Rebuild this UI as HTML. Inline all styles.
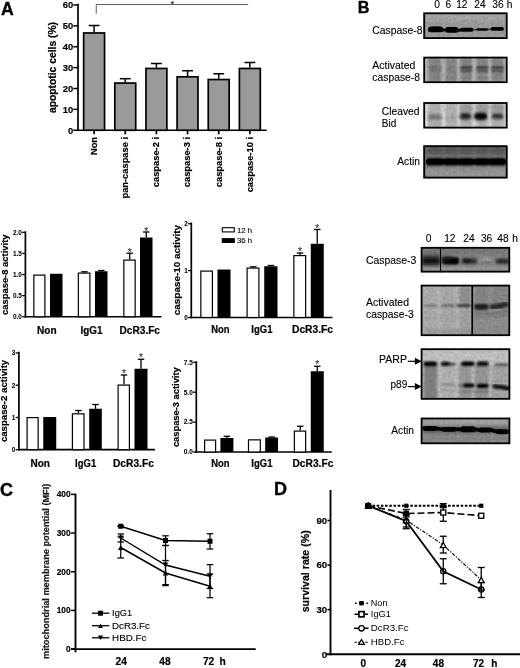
<!DOCTYPE html>
<html><head><meta charset="utf-8"><title>Figure</title>
<style>
html,body{margin:0;padding:0;background:#fff;}
svg{display:block;filter:blur(0.4px);font-family:'Liberation Sans', sans-serif;}
</style></head><body>
<svg width="520" height="668" viewBox="0 0 520 668">
<rect width="520" height="668" fill="#fff"/>
<text font-size="17.7" font-weight="bold" stroke="#000" stroke-width="0.354" x="0.9" y="14.9" >A</text>
<text font-size="16.2" font-weight="bold" stroke="#000" stroke-width="0.324" x="357.7" y="13.1" >B</text>
<text font-size="18" font-weight="bold" stroke="#000" stroke-width="0.36" x="0.1" y="496.1" >C</text>
<text font-size="18" font-weight="bold" stroke="#000" stroke-width="0.36" x="273.9" y="495.2" >D</text>
<line x1="78" y1="3.8" x2="78" y2="131.05" stroke="#000" stroke-width="1.7" />
<line x1="77.15" y1="130.25" x2="266.75" y2="130.25" stroke="#000" stroke-width="1.7" />
<line x1="73.3" y1="130.25" x2="78" y2="130.25" stroke="#000" stroke-width="1.5" />
<text font-size="9.4" font-weight="bold" stroke="#000" stroke-width="0.188" text-anchor="end" x="73.3" y="133.65" >0</text>
<line x1="73.3" y1="109.37" x2="78" y2="109.37" stroke="#000" stroke-width="1.5" />
<text font-size="9.4" font-weight="bold" stroke="#000" stroke-width="0.188" text-anchor="end" x="73.3" y="112.77000000000001" >10</text>
<line x1="73.3" y1="88.49000000000001" x2="78" y2="88.49000000000001" stroke="#000" stroke-width="1.5" />
<text font-size="9.4" font-weight="bold" stroke="#000" stroke-width="0.188" text-anchor="end" x="73.3" y="91.89000000000001" >20</text>
<line x1="73.3" y1="67.61" x2="78" y2="67.61" stroke="#000" stroke-width="1.5" />
<text font-size="9.4" font-weight="bold" stroke="#000" stroke-width="0.188" text-anchor="end" x="73.3" y="71.01" >30</text>
<line x1="73.3" y1="46.730000000000004" x2="78" y2="46.730000000000004" stroke="#000" stroke-width="1.5" />
<text font-size="9.4" font-weight="bold" stroke="#000" stroke-width="0.188" text-anchor="end" x="73.3" y="50.13" >40</text>
<line x1="73.3" y1="25.85000000000001" x2="78" y2="25.85000000000001" stroke="#000" stroke-width="1.5" />
<text font-size="9.4" font-weight="bold" stroke="#000" stroke-width="0.188" text-anchor="end" x="73.3" y="29.250000000000007" >50</text>
<line x1="73.3" y1="4.969999999999999" x2="78" y2="4.969999999999999" stroke="#000" stroke-width="1.5" />
<text font-size="9.4" font-weight="bold" stroke="#000" stroke-width="0.188" text-anchor="end" x="73.3" y="8.37" >60</text>
<text font-size="10.3" font-weight="bold" stroke="#000" stroke-width="0.206" text-anchor="middle" textLength="91" lengthAdjust="spacingAndGlyphs" transform="translate(56,67.5) rotate(-90)" >apoptotic cells (%)</text>
<line x1="94.1" y1="25.5" x2="94.1" y2="32.11399999999999" stroke="#000" stroke-width="1.5" />
<line x1="88.69999999999999" y1="25.5" x2="99.5" y2="25.5" stroke="#000" stroke-width="1.5" />
<rect x="83.64999999999999" y="32.96399999999999" width="20.900000000000002" height="97.28600000000002" fill="#9a9a9a" stroke="#000" stroke-width="1.7" />
<line x1="94.1" y1="130.25" x2="94.1" y2="134.35" stroke="#000" stroke-width="1.7" />
<text font-size="9.3" font-weight="bold" stroke="#000" stroke-width="0.186" text-anchor="end" transform="translate(97.0,137) rotate(-90)" >Non</text>
<line x1="125.24999999999999" y1="78.7" x2="125.24999999999999" y2="82.226" stroke="#000" stroke-width="1.5" />
<line x1="119.84999999999998" y1="78.7" x2="130.64999999999998" y2="78.7" stroke="#000" stroke-width="1.5" />
<rect x="114.79999999999998" y="83.076" width="20.900000000000002" height="47.174" fill="#9a9a9a" stroke="#000" stroke-width="1.7" />
<line x1="125.24999999999999" y1="130.25" x2="125.24999999999999" y2="134.35" stroke="#000" stroke-width="1.7" />
<text font-size="9.3" font-weight="bold" stroke="#000" stroke-width="0.186" text-anchor="end" transform="translate(128.14999999999998,137) rotate(-90)" >pan-caspase i</text>
<line x1="156.4" y1="63.5" x2="156.4" y2="67.61" stroke="#000" stroke-width="1.5" />
<line x1="151.0" y1="63.5" x2="161.8" y2="63.5" stroke="#000" stroke-width="1.5" />
<rect x="145.95" y="68.46" width="20.900000000000002" height="61.79" fill="#9a9a9a" stroke="#000" stroke-width="1.7" />
<line x1="156.4" y1="130.25" x2="156.4" y2="134.35" stroke="#000" stroke-width="1.7" />
<text font-size="9.3" font-weight="bold" stroke="#000" stroke-width="0.186" text-anchor="end" transform="translate(159.3,137) rotate(-90)" >caspase-2 i</text>
<line x1="187.55" y1="70.75" x2="187.55" y2="75.96199999999999" stroke="#000" stroke-width="1.5" />
<line x1="182.15" y1="70.75" x2="192.95000000000002" y2="70.75" stroke="#000" stroke-width="1.5" />
<rect x="177.1" y="76.81199999999998" width="20.900000000000002" height="53.43800000000001" fill="#9a9a9a" stroke="#000" stroke-width="1.7" />
<line x1="187.55" y1="130.25" x2="187.55" y2="134.35" stroke="#000" stroke-width="1.7" />
<text font-size="9.3" font-weight="bold" stroke="#000" stroke-width="0.186" text-anchor="end" transform="translate(190.45000000000002,137) rotate(-90)" >caspase-3 i</text>
<line x1="218.7" y1="73.75" x2="218.7" y2="78.6764" stroke="#000" stroke-width="1.5" />
<line x1="213.29999999999998" y1="73.75" x2="224.1" y2="73.75" stroke="#000" stroke-width="1.5" />
<rect x="208.24999999999997" y="79.5264" width="20.900000000000002" height="50.7236" fill="#9a9a9a" stroke="#000" stroke-width="1.7" />
<line x1="218.7" y1="130.25" x2="218.7" y2="134.35" stroke="#000" stroke-width="1.7" />
<text font-size="9.3" font-weight="bold" stroke="#000" stroke-width="0.186" text-anchor="end" transform="translate(221.6,137) rotate(-90)" >caspase-8 i</text>
<line x1="249.85000000000002" y1="62.5" x2="249.85000000000002" y2="67.61" stroke="#000" stroke-width="1.5" />
<line x1="244.45000000000002" y1="62.5" x2="255.25000000000003" y2="62.5" stroke="#000" stroke-width="1.5" />
<rect x="239.4" y="68.46" width="20.900000000000002" height="61.79" fill="#9a9a9a" stroke="#000" stroke-width="1.7" />
<line x1="249.85000000000002" y1="130.25" x2="249.85000000000002" y2="134.35" stroke="#000" stroke-width="1.7" />
<text font-size="9.3" font-weight="bold" stroke="#000" stroke-width="0.186" text-anchor="end" transform="translate(252.75000000000003,137) rotate(-90)" >caspase-10 i</text>
<path d="M96.25 13.75V4.5H248.25" fill="none" stroke="#3a3a3a" stroke-width="0.8"/>
<text font-size="9.5" text-anchor="middle" stroke="#000" stroke-width="0.12" fill="#333" x="172.3" y="7.3" >*</text>
<line x1="25.4" y1="231.3" x2="25.4" y2="317.55" stroke="#000" stroke-width="1.7" />
<line x1="24.549999999999997" y1="316.75" x2="161.5" y2="316.75" stroke="#000" stroke-width="1.7" />
<line x1="22.2" y1="316.75" x2="25.4" y2="316.75" stroke="#000" stroke-width="1.3" />
<text font-size="6.4" font-weight="bold" stroke="#000" stroke-width="0.06" text-anchor="end" x="21.799999999999997" y="319.05" >0.0</text>
<line x1="22.2" y1="295.65" x2="25.4" y2="295.65" stroke="#000" stroke-width="1.3" />
<text font-size="6.4" font-weight="bold" stroke="#000" stroke-width="0.06" text-anchor="end" x="21.799999999999997" y="297.95" >0.5</text>
<line x1="22.2" y1="274.55" x2="25.4" y2="274.55" stroke="#000" stroke-width="1.3" />
<text font-size="6.4" font-weight="bold" stroke="#000" stroke-width="0.06" text-anchor="end" x="21.799999999999997" y="276.85" >1.0</text>
<line x1="22.2" y1="253.45" x2="25.4" y2="253.45" stroke="#000" stroke-width="1.3" />
<text font-size="6.4" font-weight="bold" stroke="#000" stroke-width="0.06" text-anchor="end" x="21.799999999999997" y="255.75" >1.5</text>
<line x1="22.2" y1="232.35" x2="25.4" y2="232.35" stroke="#000" stroke-width="1.3" />
<text font-size="6.4" font-weight="bold" stroke="#000" stroke-width="0.06" text-anchor="end" x="21.799999999999997" y="234.65" >2.0</text>
<text font-size="9.8" font-weight="bold" stroke="#000" stroke-width="0.196" text-anchor="middle" textLength="80.5" lengthAdjust="spacingAndGlyphs" transform="translate(8.2,274.75) rotate(-90)" >caspase-8 activity</text>
<rect x="33.85" y="275.1" width="11.05" height="41.65" fill="#fff" stroke="#000" stroke-width="1.2" />
<rect x="50" y="273.75" width="12.5" height="43.0" fill="#000" />
<line x1="84.375" y1="271.8" x2="84.375" y2="272.5" stroke="#000" stroke-width="1.3" />
<line x1="81.125" y1="271.8" x2="87.625" y2="271.8" stroke="#000" stroke-width="1.3" />
<rect x="78.35" y="273.1" width="11.55" height="43.65" fill="#fff" stroke="#000" stroke-width="1.2" />
<line x1="101.25" y1="270.5" x2="101.25" y2="271.25" stroke="#000" stroke-width="1.3" />
<line x1="98.0" y1="270.5" x2="104.5" y2="270.5" stroke="#000" stroke-width="1.3" />
<rect x="95" y="271.25" width="12.5" height="45.5" fill="#000" />
<line x1="129.75" y1="253.25" x2="129.75" y2="259.5" stroke="#000" stroke-width="1.3" />
<line x1="126.5" y1="253.25" x2="133.0" y2="253.25" stroke="#000" stroke-width="1.3" />
<rect x="123.85" y="260.1" width="11.3" height="56.65" fill="#fff" stroke="#000" stroke-width="1.2" />
<text font-size="10" text-anchor="middle" stroke="#000" stroke-width="0.12" fill="#3a3a3a" x="129.75" y="255.9" >*</text>
<line x1="146.25" y1="232" x2="146.25" y2="237.5" stroke="#000" stroke-width="1.3" />
<line x1="143.0" y1="232" x2="149.5" y2="232" stroke="#000" stroke-width="1.3" />
<rect x="140" y="237.5" width="12.5" height="79.25" fill="#000" />
<text font-size="10" text-anchor="middle" stroke="#000" stroke-width="0.12" fill="#3a3a3a" x="146.25" y="235.3" >*</text>
<text font-size="10" font-weight="bold" stroke="#000" stroke-width="0.2" textLength="19.6" lengthAdjust="spacingAndGlyphs" x="37" y="333.6" >Non</text>
<text font-size="10" font-weight="bold" stroke="#000" stroke-width="0.2" textLength="22.0" lengthAdjust="spacingAndGlyphs" x="80.5" y="333.6" >IgG1</text>
<text font-size="10" font-weight="bold" stroke="#000" stroke-width="0.2" textLength="40.5" lengthAdjust="spacingAndGlyphs" x="119.5" y="333.6" >DcR3.Fc</text>
<line x1="191.3" y1="222.55" x2="191.3" y2="318.3" stroke="#000" stroke-width="1.7" />
<line x1="190.45000000000002" y1="317.5" x2="332.5" y2="317.5" stroke="#000" stroke-width="1.7" />
<line x1="188.10000000000002" y1="317.5" x2="191.3" y2="317.5" stroke="#000" stroke-width="1.3" />
<text font-size="6.4" font-weight="bold" stroke="#000" stroke-width="0.06" text-anchor="end" x="187.70000000000002" y="319.8" >0</text>
<line x1="188.10000000000002" y1="270.6" x2="191.3" y2="270.6" stroke="#000" stroke-width="1.3" />
<text font-size="6.4" font-weight="bold" stroke="#000" stroke-width="0.06" text-anchor="end" x="187.70000000000002" y="272.90000000000003" >1</text>
<line x1="188.10000000000002" y1="223.75" x2="191.3" y2="223.75" stroke="#000" stroke-width="1.3" />
<text font-size="6.4" font-weight="bold" stroke="#000" stroke-width="0.06" text-anchor="end" x="187.70000000000002" y="226.05" >2</text>
<text font-size="9.8" font-weight="bold" stroke="#000" stroke-width="0.196" text-anchor="middle" textLength="90.3" lengthAdjust="spacingAndGlyphs" transform="translate(180.1,270.05) rotate(-90)" >caspase-10 activity</text>
<rect x="200.85" y="271.1" width="11.55" height="46.4" fill="#fff" stroke="#000" stroke-width="1.2" />
<rect x="217.5" y="269.5" width="13.0" height="48.0" fill="#000" />
<line x1="253.25" y1="266.8" x2="253.25" y2="267.5" stroke="#000" stroke-width="1.3" />
<line x1="250.0" y1="266.8" x2="256.5" y2="266.8" stroke="#000" stroke-width="1.3" />
<rect x="247.1" y="268.1" width="11.8" height="49.4" fill="#fff" stroke="#000" stroke-width="1.2" />
<line x1="270.875" y1="265.5" x2="270.875" y2="266.25" stroke="#000" stroke-width="1.3" />
<line x1="267.625" y1="265.5" x2="274.125" y2="265.5" stroke="#000" stroke-width="1.3" />
<rect x="264.25" y="266.25" width="13.25" height="51.25" fill="#000" />
<line x1="300.0" y1="253" x2="300.0" y2="255" stroke="#000" stroke-width="1.3" />
<line x1="296.75" y1="253" x2="303.25" y2="253" stroke="#000" stroke-width="1.3" />
<rect x="293.85" y="255.6" width="11.8" height="61.9" fill="#fff" stroke="#000" stroke-width="1.2" />
<text font-size="10" text-anchor="middle" stroke="#000" stroke-width="0.12" fill="#3a3a3a" x="300.0" y="255.2" >*</text>
<line x1="317.25" y1="229.5" x2="317.25" y2="243.75" stroke="#000" stroke-width="1.3" />
<line x1="314.0" y1="229.5" x2="320.5" y2="229.5" stroke="#000" stroke-width="1.3" />
<rect x="310.75" y="243.75" width="13.0" height="73.75" fill="#000" />
<text font-size="10" text-anchor="middle" stroke="#000" stroke-width="0.12" fill="#3a3a3a" x="317.25" y="231.7" >*</text>
<text font-size="10" font-weight="bold" stroke="#000" stroke-width="0.2" textLength="18.3" lengthAdjust="spacingAndGlyphs" x="211.25" y="333.4" >Non</text>
<text font-size="10" font-weight="bold" stroke="#000" stroke-width="0.2" textLength="21.2" lengthAdjust="spacingAndGlyphs" x="251.25" y="333.4" >IgG1</text>
<text font-size="10" font-weight="bold" stroke="#000" stroke-width="0.2" textLength="41" lengthAdjust="spacingAndGlyphs" x="292" y="333.4" >DcR3.Fc</text>
<rect x="222.3" y="227.7" width="12" height="4.2" fill="#fff" stroke="#000" stroke-width="1.1" />
<rect x="221.75" y="238.1" width="13.1" height="4.9" fill="#000" />
<text font-size="7.8" textLength="15.2" lengthAdjust="spacingAndGlyphs" x="236.9" y="232.5" stroke="#000" stroke-width="0.12">12 h</text>
<text font-size="7.8" textLength="15.2" lengthAdjust="spacingAndGlyphs" x="236.9" y="243.3" stroke="#000" stroke-width="0.12">36 h</text>
<line x1="18.9" y1="351.8" x2="18.9" y2="450.5" stroke="#000" stroke-width="1.7" />
<line x1="18.049999999999997" y1="449.7" x2="155" y2="449.7" stroke="#000" stroke-width="1.7" />
<line x1="15.7" y1="449.7" x2="18.9" y2="449.7" stroke="#000" stroke-width="1.3" />
<text font-size="6.4" font-weight="bold" stroke="#000" stroke-width="0.06" text-anchor="end" x="15.299999999999999" y="452.0" >0</text>
<line x1="15.7" y1="417.45" x2="18.9" y2="417.45" stroke="#000" stroke-width="1.3" />
<text font-size="6.4" font-weight="bold" stroke="#000" stroke-width="0.06" text-anchor="end" x="15.299999999999999" y="419.75" >1</text>
<line x1="15.7" y1="385.2" x2="18.9" y2="385.2" stroke="#000" stroke-width="1.3" />
<text font-size="6.4" font-weight="bold" stroke="#000" stroke-width="0.06" text-anchor="end" x="15.299999999999999" y="387.5" >2</text>
<line x1="15.7" y1="352.95" x2="18.9" y2="352.95" stroke="#000" stroke-width="1.3" />
<text font-size="6.4" font-weight="bold" stroke="#000" stroke-width="0.06" text-anchor="end" x="15.299999999999999" y="355.25" >3</text>
<text font-size="9.8" font-weight="bold" stroke="#000" stroke-width="0.196" text-anchor="middle" textLength="82.3" lengthAdjust="spacingAndGlyphs" transform="translate(7.4,400.95000000000005) rotate(-90)" >caspase-2 activity</text>
<rect x="27.1" y="417.6" width="11.05" height="32.09999999999999" fill="#fff" stroke="#000" stroke-width="1.2" />
<rect x="43.25" y="417" width="13.0" height="32.69999999999999" fill="#000" />
<line x1="78.44999999999999" y1="410.5" x2="78.44999999999999" y2="413.25" stroke="#000" stroke-width="1.3" />
<line x1="75.19999999999999" y1="410.5" x2="81.69999999999999" y2="410.5" stroke="#000" stroke-width="1.3" />
<rect x="72.39999999999999" y="413.85" width="11.599999999999998" height="35.84999999999999" fill="#fff" stroke="#000" stroke-width="1.2" />
<line x1="95.5" y1="404.5" x2="95.5" y2="408.75" stroke="#000" stroke-width="1.3" />
<line x1="92.25" y1="404.5" x2="98.75" y2="404.5" stroke="#000" stroke-width="1.3" />
<rect x="89.2" y="408.75" width="12.599999999999994" height="40.94999999999999" fill="#000" />
<line x1="124.0" y1="375" x2="124.0" y2="384.5" stroke="#000" stroke-width="1.3" />
<line x1="120.75" y1="375" x2="127.25" y2="375" stroke="#000" stroke-width="1.3" />
<rect x="118.1" y="385.1" width="11.3" height="64.6" fill="#fff" stroke="#000" stroke-width="1.2" />
<text font-size="10" text-anchor="middle" stroke="#000" stroke-width="0.12" fill="#3a3a3a" x="124.0" y="377.2" >*</text>
<line x1="141.0" y1="359.25" x2="141.0" y2="368.75" stroke="#000" stroke-width="1.3" />
<line x1="137.75" y1="359.25" x2="144.25" y2="359.25" stroke="#000" stroke-width="1.3" />
<rect x="134.5" y="368.75" width="13.0" height="80.94999999999999" fill="#000" />
<text font-size="10" text-anchor="middle" stroke="#000" stroke-width="0.12" fill="#3a3a3a" x="141.0" y="361.0" >*</text>
<text font-size="10" font-weight="bold" stroke="#000" stroke-width="0.2" textLength="19.5" lengthAdjust="spacingAndGlyphs" x="30.5" y="467" >Non</text>
<text font-size="10" font-weight="bold" stroke="#000" stroke-width="0.2" textLength="21.2" lengthAdjust="spacingAndGlyphs" x="75" y="467" >IgG1</text>
<text font-size="10" font-weight="bold" stroke="#000" stroke-width="0.2" textLength="40.8" lengthAdjust="spacingAndGlyphs" x="113" y="467" >DcR3.Fc</text>
<line x1="196.3" y1="361.3" x2="196.3" y2="452.8" stroke="#000" stroke-width="1.7" />
<line x1="195.45000000000002" y1="452" x2="331.75" y2="452" stroke="#000" stroke-width="1.7" />
<line x1="193.10000000000002" y1="452.0" x2="196.3" y2="452.0" stroke="#000" stroke-width="1.3" />
<text font-size="6.4" font-weight="bold" stroke="#000" stroke-width="0.06" text-anchor="end" x="192.70000000000002" y="454.3" >0.0</text>
<line x1="193.10000000000002" y1="422.1" x2="196.3" y2="422.1" stroke="#000" stroke-width="1.3" />
<text font-size="6.4" font-weight="bold" stroke="#000" stroke-width="0.06" text-anchor="end" x="192.70000000000002" y="424.40000000000003" >2.5</text>
<line x1="193.10000000000002" y1="392.2" x2="196.3" y2="392.2" stroke="#000" stroke-width="1.3" />
<text font-size="6.4" font-weight="bold" stroke="#000" stroke-width="0.06" text-anchor="end" x="192.70000000000002" y="394.5" >5.0</text>
<line x1="193.10000000000002" y1="362.3" x2="196.3" y2="362.3" stroke="#000" stroke-width="1.3" />
<text font-size="6.4" font-weight="bold" stroke="#000" stroke-width="0.06" text-anchor="end" x="192.70000000000002" y="364.6" >7.5</text>
<text font-size="9.5" font-weight="bold" stroke="#000" stroke-width="0.19" text-anchor="middle" textLength="79.8" lengthAdjust="spacingAndGlyphs" transform="translate(179.2,407.20000000000005) rotate(-90)" >caspase-3 activity</text>
<rect x="204.6" y="440.1" width="10.99999999999999" height="11.9" fill="#fff" stroke="#000" stroke-width="1.2" />
<line x1="226.9" y1="436.25" x2="226.9" y2="438" stroke="#000" stroke-width="1.3" />
<line x1="223.65" y1="436.25" x2="230.15" y2="436.25" stroke="#000" stroke-width="1.3" />
<rect x="220.4" y="438" width="13.0" height="14" fill="#000" />
<rect x="248.5" y="439.85" width="11.799999999999972" height="12.15" fill="#fff" stroke="#000" stroke-width="1.2" />
<line x1="271.6" y1="437" x2="271.6" y2="437.5" stroke="#000" stroke-width="1.3" />
<line x1="268.35" y1="437" x2="274.85" y2="437" stroke="#000" stroke-width="1.3" />
<rect x="265.2" y="437.5" width="12.800000000000011" height="14.5" fill="#000" />
<line x1="300.25" y1="426.25" x2="300.25" y2="430.5" stroke="#000" stroke-width="1.3" />
<line x1="297.0" y1="426.25" x2="303.5" y2="426.25" stroke="#000" stroke-width="1.3" />
<rect x="294.35" y="431.1" width="11.3" height="20.9" fill="#fff" stroke="#000" stroke-width="1.2" />
<line x1="317.25" y1="366.25" x2="317.25" y2="371.25" stroke="#000" stroke-width="1.3" />
<line x1="314.0" y1="366.25" x2="320.5" y2="366.25" stroke="#000" stroke-width="1.3" />
<rect x="310.75" y="371.25" width="13.0" height="80.75" fill="#000" />
<text font-size="10" text-anchor="middle" stroke="#000" stroke-width="0.12" fill="#3a3a3a" x="317.25" y="367.8" >*</text>
<text font-size="10" font-weight="bold" stroke="#000" stroke-width="0.2" textLength="18.3" lengthAdjust="spacingAndGlyphs" x="211.25" y="467" >Non</text>
<text font-size="10" font-weight="bold" stroke="#000" stroke-width="0.2" textLength="21.2" lengthAdjust="spacingAndGlyphs" x="251.25" y="467" >IgG1</text>
<text font-size="10" font-weight="bold" stroke="#000" stroke-width="0.2" textLength="40.8" lengthAdjust="spacingAndGlyphs" x="292.5" y="467" >DcR3.Fc</text>
<defs>
<filter id="b0" x="-20%" y="-80%" width="140%" height="260%"><feGaussianBlur stdDeviation="0.6"/></filter>
<filter id="b1" x="-20%" y="-80%" width="140%" height="260%"><feGaussianBlur stdDeviation="0.9"/></filter>
<filter id="b2" x="-20%" y="-80%" width="140%" height="260%"><feGaussianBlur stdDeviation="1.5"/></filter>
<filter id="b3" x="-20%" y="-80%" width="140%" height="260%"><feGaussianBlur stdDeviation="2.4"/></filter>
<filter id="nz" x="0" y="0" width="100%" height="100%"><feTurbulence type="fractalNoise" baseFrequency="0.35" numOctaves="2" seed="3" result="t"/><feColorMatrix in="t" type="matrix" values="0 0 0 0 0  0 0 0 0 0  0 0 0 0 0  1.2 0 0 0 -0.35"/></filter>
</defs>
<text font-size="10.2" text-anchor="middle" stroke="#000" stroke-width="0.12" x="437.2" y="8.2" >0</text>
<text font-size="10.2" text-anchor="middle" stroke="#000" stroke-width="0.12" x="448.3" y="8.2" >6</text>
<text font-size="10.2" text-anchor="middle" stroke="#000" stroke-width="0.12" x="461.8" y="8.2" >12</text>
<text font-size="10.2" text-anchor="middle" stroke="#000" stroke-width="0.12" x="480" y="8.2" >24</text>
<text font-size="10.2" text-anchor="middle" stroke="#000" stroke-width="0.12" x="498" y="8.2" >36</text>
<text font-size="10.2" text-anchor="middle" stroke="#000" stroke-width="0.12" x="509.6" y="8.2" >h</text>
<clipPath id="c1"><rect x="423.4" y="12.5" width="84.10000000000002" height="26.4"/></clipPath>
<g clip-path="url(#c1)">
<rect x="423.4" y="12.5" width="84.10000000000002" height="26.4" fill="#a0a0a0" />
<rect x="424" y="14.0" width="83" height="6" rx="2.5" fill="#b4b4b4" opacity="0.7" filter="url(#b3)"/>
<rect x="428" y="26.7" width="15.300000000000011" height="5.6" rx="2.5" fill="#000" opacity="1" filter="url(#b0)"/>
<rect x="430" y="26.6" width="12" height="4.4" rx="2.2" fill="#000" opacity="1" filter="url(#b0)"/>
<rect x="445.3" y="27.099999999999998" width="13.099999999999966" height="5.6" rx="2.5" fill="#000" opacity="1" filter="url(#b0)"/>
<rect x="442" y="28.5" width="4" height="3" rx="1.5" fill="#000" opacity="1" filter="url(#b0)"/>
<rect x="457" y="28.7" width="4" height="3" rx="1.5" fill="#000" opacity="1" filter="url(#b0)"/>
<rect x="459.8" y="27.85" width="13.800000000000011" height="3.9" rx="1.95" fill="#000" opacity="1" filter="url(#b0)"/>
<rect x="476.2" y="28.3" width="11.800000000000011" height="2.4" rx="1.2" fill="#050505" opacity="1" filter="url(#b0)"/>
<rect x="472" y="29.0" width="5" height="1.6" rx="0.8" fill="#222" opacity="0.8" filter="url(#b0)"/>
<rect x="487" y="28.400000000000002" width="5" height="1.8" rx="0.9" fill="#222" opacity="0.8" filter="url(#b0)"/>
<rect x="490.7" y="27.049999999999997" width="13.199999999999989" height="3.7" rx="1.85" fill="#000" opacity="1" filter="url(#b0)"/>
<rect x="423.4" y="12.5" width="84.10000000000002" height="26.4" filter="url(#nz)" opacity="0.18"/>
</g>
<rect x="424.2" y="13.3" width="82.5" height="24.8" fill="none" stroke="#000" stroke-width="1.8"/>
<text font-size="10.4" stroke="#000" stroke-width="0.12" textLength="50.3" lengthAdjust="spacingAndGlyphs" x="372.3" y="33.8" >Caspase-8</text>
<clipPath id="c2"><rect x="423.4" y="56.8" width="84.10000000000002" height="26.200000000000003"/></clipPath>
<g clip-path="url(#c2)">
<rect x="423.4" y="56.8" width="84.10000000000002" height="26.200000000000003" fill="#bcbcbc" />
<rect x="428.7" y="55.0" width="12.600000000000023" height="30" rx="2.5" fill="#848484" opacity="0.8" filter="url(#b1)"/>
<rect x="445.7" y="55.0" width="11.100000000000023" height="30" rx="2.5" fill="#848484" opacity="0.8" filter="url(#b1)"/>
<rect x="460.7" y="55.0" width="11.100000000000023" height="30" rx="2.5" fill="#848484" opacity="0.8" filter="url(#b1)"/>
<rect x="476.7" y="55.0" width="11.100000000000023" height="30" rx="2.5" fill="#848484" opacity="0.8" filter="url(#b1)"/>
<rect x="491.7" y="55.0" width="11.600000000000023" height="30" rx="2.5" fill="#848484" opacity="0.8" filter="url(#b1)"/>
<rect x="428.0" y="66.1" width="14.0" height="2.8" rx="1.4" fill="#303030" opacity="0.3" filter="url(#b1)"/>
<rect x="428.0" y="69.5" width="14.0" height="2.8" rx="1.4" fill="#383838" opacity="0.255" filter="url(#b1)"/>
<rect x="427.5" y="76.3" width="15.0" height="2.4" rx="1.2" fill="#666" opacity="0.3" filter="url(#b1)"/>
<rect x="427.5" y="61.0" width="15.0" height="2" rx="1.0" fill="#666" opacity="0.3" filter="url(#b1)"/>
<rect x="427.5" y="73.0" width="15.0" height="2" rx="1.0" fill="#777" opacity="0.25" filter="url(#b1)"/>
<rect x="445.0" y="66.1" width="12.5" height="2.8" rx="1.4" fill="#303030" opacity="0.15" filter="url(#b1)"/>
<rect x="445.0" y="69.5" width="12.5" height="2.8" rx="1.4" fill="#383838" opacity="0.1275" filter="url(#b1)"/>
<rect x="444.5" y="76.3" width="13.5" height="2.4" rx="1.2" fill="#666" opacity="0.3" filter="url(#b1)"/>
<rect x="444.5" y="61.0" width="13.5" height="2" rx="1.0" fill="#666" opacity="0.3" filter="url(#b1)"/>
<rect x="444.5" y="73.0" width="13.5" height="2" rx="1.0" fill="#777" opacity="0.25" filter="url(#b1)"/>
<rect x="460.0" y="66.1" width="12.5" height="2.8" rx="1.4" fill="#303030" opacity="0.85" filter="url(#b1)"/>
<rect x="460.0" y="69.5" width="12.5" height="2.8" rx="1.4" fill="#383838" opacity="0.7224999999999999" filter="url(#b1)"/>
<rect x="459.5" y="76.3" width="13.5" height="2.4" rx="1.2" fill="#666" opacity="0.3" filter="url(#b1)"/>
<rect x="459.5" y="61.0" width="13.5" height="2" rx="1.0" fill="#666" opacity="0.3" filter="url(#b1)"/>
<rect x="459.5" y="73.0" width="13.5" height="2" rx="1.0" fill="#777" opacity="0.25" filter="url(#b1)"/>
<rect x="476.0" y="66.1" width="12.5" height="2.8" rx="1.4" fill="#303030" opacity="0.8" filter="url(#b1)"/>
<rect x="476.0" y="69.5" width="12.5" height="2.8" rx="1.4" fill="#383838" opacity="0.68" filter="url(#b1)"/>
<rect x="475.5" y="76.3" width="13.5" height="2.4" rx="1.2" fill="#666" opacity="0.3" filter="url(#b1)"/>
<rect x="475.5" y="61.0" width="13.5" height="2" rx="1.0" fill="#666" opacity="0.3" filter="url(#b1)"/>
<rect x="475.5" y="73.0" width="13.5" height="2" rx="1.0" fill="#777" opacity="0.25" filter="url(#b1)"/>
<rect x="491.0" y="66.1" width="13.0" height="2.8" rx="1.4" fill="#303030" opacity="0.8" filter="url(#b1)"/>
<rect x="491.0" y="69.5" width="13.0" height="2.8" rx="1.4" fill="#383838" opacity="0.68" filter="url(#b1)"/>
<rect x="490.5" y="76.3" width="14.0" height="2.4" rx="1.2" fill="#666" opacity="0.3" filter="url(#b1)"/>
<rect x="490.5" y="61.0" width="14.0" height="2" rx="1.0" fill="#666" opacity="0.3" filter="url(#b1)"/>
<rect x="490.5" y="73.0" width="14.0" height="2" rx="1.0" fill="#777" opacity="0.25" filter="url(#b1)"/>
<rect x="423.4" y="56.8" width="84.10000000000002" height="26.200000000000003" filter="url(#nz)" opacity="0.18"/>
</g>
<rect x="424.2" y="57.599999999999994" width="82.5" height="24.6" fill="none" stroke="#000" stroke-width="1.8"/>
<text font-size="10.4" stroke="#000" stroke-width="0.12" textLength="43" lengthAdjust="spacingAndGlyphs" x="372.3" y="68.8" >Activated</text>
<text font-size="10.4" stroke="#000" stroke-width="0.12" textLength="47.7" lengthAdjust="spacingAndGlyphs" x="372.3" y="81.3" >caspase-8</text>
<clipPath id="c3"><rect x="423.4" y="102.2" width="84.10000000000002" height="26.200000000000003"/></clipPath>
<g clip-path="url(#c3)">
<rect x="423.4" y="102.2" width="84.10000000000002" height="26.200000000000003" fill="#dcdcdc" />
<rect x="428.5" y="100.0" width="13.0" height="30" rx="2.5" fill="#aaa" opacity="0.75" filter="url(#b1)"/>
<rect x="445.5" y="100.0" width="11.5" height="30" rx="2.5" fill="#aaa" opacity="0.75" filter="url(#b1)"/>
<rect x="460.5" y="100.0" width="11.5" height="30" rx="2.5" fill="#aaa" opacity="0.75" filter="url(#b1)"/>
<rect x="476.5" y="100.0" width="11.5" height="30" rx="2.5" fill="#aaa" opacity="0.75" filter="url(#b1)"/>
<rect x="491.5" y="100.0" width="12.0" height="30" rx="2.5" fill="#aaa" opacity="0.75" filter="url(#b1)"/>
<rect x="459.5" y="104.5" width="13.5" height="7" rx="2.5" fill="#909090" opacity="0.6" filter="url(#b2)"/>
<rect x="475.5" y="104.5" width="13.5" height="7" rx="2.5" fill="#909090" opacity="0.6" filter="url(#b2)"/>
<rect x="490.5" y="104.5" width="14.0" height="7" rx="2.5" fill="#909090" opacity="0.6" filter="url(#b2)"/>
<rect x="428" y="114.25" width="13.5" height="5.5" rx="2.5" fill="#686868" opacity="0.8" filter="url(#b2)"/>
<rect x="446" y="115.0" width="11" height="4" rx="2.0" fill="#999" opacity="0.45" filter="url(#b2)"/>
<rect x="459.8" y="113.05" width="11.199999999999989" height="6.5" rx="2.5" fill="#202020" opacity="1" filter="url(#b2)"/>
<rect x="474.2" y="112.7" width="12.800000000000011" height="7" rx="2.5" fill="#080808" opacity="1" filter="url(#b2)"/>
<rect x="476" y="114.2" width="10" height="4" rx="2.0" fill="#000" opacity="0.8" filter="url(#b1)"/>
<rect x="491.7" y="113.55" width="11.699999999999989" height="5.5" rx="2.5" fill="#303030" opacity="1" filter="url(#b2)"/>
<rect x="423.4" y="102.2" width="84.10000000000002" height="26.200000000000003" filter="url(#nz)" opacity="0.18"/>
</g>
<rect x="424.2" y="103.0" width="82.5" height="24.6" fill="none" stroke="#000" stroke-width="1.8"/>
<text font-size="10.4" stroke="#000" stroke-width="0.12" textLength="37.7" lengthAdjust="spacingAndGlyphs" x="381.8" y="114.6" >Cleaved</text>
<text font-size="10.4" stroke="#000" stroke-width="0.12" textLength="14.5" lengthAdjust="spacingAndGlyphs" x="381.8" y="126.9" >Bid</text>
<clipPath id="c4"><rect x="423.4" y="145.4" width="84.10000000000002" height="33.0"/></clipPath>
<g clip-path="url(#c4)">
<rect x="423.4" y="145.4" width="84.10000000000002" height="33.0" fill="#868686" />
<rect x="424" y="146.5" width="83" height="9" rx="2.5" fill="#5c5c5c" opacity="0.85" filter="url(#b3)"/>
<rect x="424" y="169.0" width="83" height="9" rx="2.5" fill="#a2a2a2" opacity="0.8" filter="url(#b3)"/>
<rect x="428.5" y="146.0" width="13.0" height="8" rx="2.5" fill="#505050" opacity="0.5" filter="url(#b2)"/>
<rect x="445.5" y="146.0" width="11.5" height="8" rx="2.5" fill="#505050" opacity="0.5" filter="url(#b2)"/>
<rect x="460.5" y="146.0" width="11.5" height="8" rx="2.5" fill="#505050" opacity="0.5" filter="url(#b2)"/>
<rect x="476.5" y="146.0" width="11.5" height="8" rx="2.5" fill="#505050" opacity="0.5" filter="url(#b2)"/>
<rect x="491.5" y="146.0" width="12.0" height="8" rx="2.5" fill="#505050" opacity="0.5" filter="url(#b2)"/>
<rect x="426" y="159.3" width="80" height="5" rx="2.5" fill="#000" opacity="1" filter="url(#b0)"/>
<rect x="426.3" y="158.10000000000002" width="17.399999999999977" height="7.4" rx="2.5" fill="#000" opacity="1" filter="url(#b1)"/>
<rect x="443.3" y="158.10000000000002" width="15.899999999999977" height="7.4" rx="2.5" fill="#000" opacity="1" filter="url(#b1)"/>
<rect x="458.3" y="158.10000000000002" width="15.899999999999977" height="7.4" rx="2.5" fill="#000" opacity="1" filter="url(#b1)"/>
<rect x="474.3" y="158.10000000000002" width="15.899999999999977" height="7.4" rx="2.5" fill="#000" opacity="1" filter="url(#b1)"/>
<rect x="489.3" y="158.10000000000002" width="16.399999999999977" height="7.4" rx="2.5" fill="#000" opacity="1" filter="url(#b1)"/>
<rect x="423.4" y="145.4" width="84.10000000000002" height="33.0" filter="url(#nz)" opacity="0.18"/>
</g>
<rect x="424.2" y="146.20000000000002" width="82.5" height="31.4" fill="none" stroke="#000" stroke-width="1.8"/>
<text font-size="10.4" stroke="#000" stroke-width="0.12" textLength="22.7" lengthAdjust="spacingAndGlyphs" x="397.3" y="165.1" >Actin</text>
<text font-size="10.2" text-anchor="middle" stroke="#000" stroke-width="0.12" x="428.6" y="242.2" >0</text>
<text font-size="10.2" text-anchor="middle" stroke="#000" stroke-width="0.12" x="449.8" y="242.2" >12</text>
<text font-size="10.2" text-anchor="middle" stroke="#000" stroke-width="0.12" x="469" y="242.2" >24</text>
<text font-size="10.2" text-anchor="middle" stroke="#000" stroke-width="0.12" x="486.6" y="242.2" >36</text>
<text font-size="10.2" text-anchor="middle" stroke="#000" stroke-width="0.12" x="503" y="242.2" >48</text>
<text font-size="10.2" text-anchor="middle" stroke="#000" stroke-width="0.12" x="515" y="242.2" >h</text>
<clipPath id="c5"><rect x="420.8" y="247" width="89.30000000000001" height="25.399999999999977"/></clipPath>
<g clip-path="url(#c5)">
<rect x="420.8" y="247" width="89.30000000000001" height="25.399999999999977" fill="#8c8c8c" />
<rect x="421" y="247.5" width="89" height="7" rx="2.5" fill="#747474" opacity="0.8" filter="url(#b3)"/>
<rect x="421" y="267.0" width="89" height="5" rx="2.5" fill="#a0a0a0" opacity="0.8" filter="url(#b2)"/>
<rect x="421.5" y="254.3" width="18.5" height="12" rx="2.5" fill="#484848" opacity="0.85" filter="url(#b2)"/>
<rect x="422.5" y="257.7" width="17.0" height="6.4" rx="2.5" fill="#080808" opacity="0.95" filter="url(#b2)"/>
<rect x="442.3" y="257.29999999999995" width="16.69999999999999" height="7.2" rx="2.5" fill="#000" opacity="1" filter="url(#b1)"/>
<rect x="441" y="256.0" width="11" height="5" rx="2.5" fill="#222" opacity="0.7" filter="url(#b2)"/>
<rect x="461.8" y="258.0" width="15.199999999999989" height="6" rx="2.5" fill="#303030" opacity="1" filter="url(#b2)"/>
<rect x="462.5" y="259.2" width="8.5" height="3.6" rx="1.8" fill="#000" opacity="0.55" filter="url(#b1)"/>
<rect x="480" y="257.5" width="13" height="6" rx="2.5" fill="#a8a8a8" opacity="0.7" filter="url(#b2)"/>
<rect x="481" y="261.5" width="11" height="2.2" rx="1.1" fill="#555" opacity="0.7" filter="url(#b1)"/>
<rect x="495.4" y="258.4" width="14.600000000000023" height="5.6" rx="2.5" fill="#3a3a3a" opacity="1" filter="url(#b2)"/>
<rect x="497" y="260.09999999999997" width="11" height="2.6" rx="1.3" fill="#111" opacity="0.4" filter="url(#b1)"/>
<line x1="440.5" y1="247" x2="440.5" y2="272.5" stroke="#000" stroke-width="1.1"/>
<rect x="420.8" y="247" width="89.30000000000001" height="25.399999999999977" filter="url(#nz)" opacity="0.18"/>
</g>
<rect x="421.6" y="247.8" width="87.7" height="23.8" fill="none" stroke="#000" stroke-width="1.8"/>
<text font-size="10.4" stroke="#000" stroke-width="0.12" textLength="50.3" lengthAdjust="spacingAndGlyphs" x="366" y="263.8" >Caspase-3</text>
<clipPath id="c6"><rect x="420.8" y="284.8" width="89.30000000000001" height="51.19999999999999"/></clipPath>
<g clip-path="url(#c6)">
<rect x="420.8" y="284.8" width="89.30000000000001" height="51.19999999999999" fill="#b8b8b8" />
<rect x="472.2" y="285" width="38" height="51" fill="#969696"/>
<rect x="424.5" y="286.0" width="12.0" height="52" rx="2.5" fill="#8c8c8c" opacity="0.18" filter="url(#b2)"/>
<rect x="442" y="286.0" width="12.5" height="52" rx="2.5" fill="#8c8c8c" opacity="0.25" filter="url(#b2)"/>
<rect x="459.5" y="286.0" width="11.0" height="52" rx="2.5" fill="#8c8c8c" opacity="0.4" filter="url(#b2)"/>
<rect x="475.5" y="286.0" width="12.5" height="52" rx="2.5" fill="#8c8c8c" opacity="0.35" filter="url(#b2)"/>
<rect x="492.5" y="286.0" width="15.0" height="52" rx="2.5" fill="#8c8c8c" opacity="0.4" filter="url(#b2)"/>
<rect x="459.5" y="287.0" width="11.0" height="16" rx="2.5" fill="#808080" opacity="0.5" filter="url(#b2)"/>
<rect x="475.5" y="287.0" width="12.5" height="16" rx="2.5" fill="#808080" opacity="0.5" filter="url(#b2)"/>
<rect x="492.5" y="287.0" width="15.0" height="16" rx="2.5" fill="#808080" opacity="0.5" filter="url(#b2)"/>
<rect x="424" y="304.7" width="13" height="2.2" rx="1.1" fill="#555" opacity="0.65" filter="url(#b1)"/>
<rect x="441" y="304.5" width="14" height="2.2" rx="1.1" fill="#4a4a4a" opacity="0.75" filter="url(#b1)"/>
<rect x="456.5" y="303.90000000000003" width="14.5" height="3.4" rx="1.7" fill="#383838" opacity="0.9" filter="url(#b1)"/>
<rect x="474.4" y="304.0" width="14.200000000000045" height="6" rx="2.5" fill="#2a2a2a" opacity="1" filter="url(#b1)"/>
<rect x="475" y="305.09999999999997" width="13" height="2.6" rx="1.3" fill="#111" opacity="0.6" filter="url(#b1)"/>
<path d="M492.5 306.8 Q500 306.6 505.5 304.6" stroke="#2a2a2a" stroke-width="5.8" fill="none" stroke-linecap="round" filter="url(#b1)"/>
<path d="M474 313.2 L490 313.4 Q500 313 508.5 310.5" stroke="#555" stroke-width="1.6" fill="none" filter="url(#b1)" opacity="0.7"/>
<path d="M474 317.3 L490 317.5 Q500 317 508.5 314.5" stroke="#666" stroke-width="1.4" fill="none" filter="url(#b1)" opacity="0.6"/>
<rect x="424" y="317.2" width="47" height="1.6" rx="0.8" fill="#888" opacity="0.35" filter="url(#b1)"/>
<rect x="424" y="329.0" width="84" height="5" rx="2.5" fill="#888" opacity="0.45" filter="url(#b2)"/>
<line x1="472.2" y1="285" x2="472.2" y2="336" stroke="#000" stroke-width="1.7"/>
<rect x="420.8" y="284.8" width="89.30000000000001" height="51.19999999999999" filter="url(#nz)" opacity="0.18"/>
</g>
<rect x="421.6" y="285.6" width="87.7" height="49.6" fill="none" stroke="#000" stroke-width="1.8"/>
<text font-size="10.4" stroke="#000" stroke-width="0.12" textLength="43" lengthAdjust="spacingAndGlyphs" x="366" y="305.8" >Activated</text>
<text font-size="10.4" stroke="#000" stroke-width="0.12" textLength="47.7" lengthAdjust="spacingAndGlyphs" x="366" y="318.3" >caspase-3</text>
<clipPath id="c7"><rect x="420.8" y="348.4" width="89.39999999999998" height="51.200000000000045"/></clipPath>
<g clip-path="url(#c7)">
<rect x="420.8" y="348.4" width="89.39999999999998" height="51.200000000000045" fill="#c6c6c6" />
<rect x="423.5" y="364.0" width="14.0" height="36" rx="2.5" fill="#7c7c7c" opacity="0.9" filter="url(#b2)"/>
<rect x="441" y="364.0" width="14.5" height="36" rx="2.5" fill="#8a8a8a" opacity="0.25" filter="url(#b2)"/>
<rect x="458.5" y="364.0" width="13.0" height="36" rx="2.5" fill="#868686" opacity="0.65" filter="url(#b2)"/>
<rect x="474.5" y="364.0" width="14.5" height="36" rx="2.5" fill="#868686" opacity="0.7" filter="url(#b2)"/>
<rect x="491.5" y="364.0" width="17.0" height="36" rx="2.5" fill="#8a8a8a" opacity="0.5" filter="url(#b2)"/>
<rect x="423.5" y="361.40000000000003" width="13.699999999999989" height="4.8" rx="2.4" fill="#050505" opacity="1" filter="url(#b1)"/>
<rect x="440.8" y="361.79999999999995" width="9.199999999999989" height="4.2" rx="2.1" fill="#0a0a0a" opacity="1" filter="url(#b1)"/>
<rect x="448" y="362.90000000000003" width="7.399999999999977" height="2.4" rx="1.2" fill="#222" opacity="0.9" filter="url(#b1)"/>
<rect x="461" y="361.6" width="13.600000000000023" height="4.4" rx="2.2" fill="#050505" opacity="1" filter="url(#b1)"/>
<rect x="476.6" y="361.6" width="12.099999999999966" height="4.4" rx="2.2" fill="#0a0a0a" opacity="1" filter="url(#b1)"/>
<rect x="494.8" y="363.40000000000003" width="14.199999999999989" height="2.8" rx="1.4" fill="#505050" opacity="0.9" filter="url(#b1)"/>
<rect x="441" y="383.40000000000003" width="14" height="2.4" rx="1.2" fill="#777" opacity="0.7" filter="url(#b1)"/>
<rect x="458" y="384.70000000000005" width="8" height="1.8" rx="0.9" fill="#333" opacity="0.7" filter="url(#b1)"/>
<rect x="463.5" y="383.4" width="11.100000000000023" height="4.2" rx="2.1" fill="#050505" opacity="1" filter="url(#b1)"/>
<rect x="476.6" y="383.7" width="12.099999999999966" height="4.2" rx="2.1" fill="#050505" opacity="1" filter="url(#b1)"/>
<path d="M494.5 386.3 Q502 386.5 508.5 388.6" stroke="#0a0a0a" stroke-width="4.2" fill="none" stroke-linecap="round" filter="url(#b1)"/>
<rect x="461" y="390.5" width="28" height="2" rx="1.0" fill="#555" opacity="0.55" filter="url(#b1)"/>
<rect x="441" y="389.7" width="15" height="1.6" rx="0.8" fill="#888" opacity="0.5" filter="url(#b1)"/>
<rect x="420.8" y="348.4" width="89.39999999999998" height="51.200000000000045" filter="url(#nz)" opacity="0.18"/>
</g>
<rect x="421.6" y="349.2" width="87.8" height="49.6" fill="none" stroke="#000" stroke-width="1.8"/>
<text font-size="10.4" stroke="#000" stroke-width="0.12" textLength="28" lengthAdjust="spacingAndGlyphs" x="379" y="363" >PARP</text>
<text font-size="10.4" stroke="#000" stroke-width="0.12" textLength="16.7" lengthAdjust="spacingAndGlyphs" x="390.5" y="387.6" >p89</text>
<line x1="407.8" y1="361.3" x2="416" y2="361.3" stroke="#000" stroke-width="1.2" />
<path d="M414.9 357.8L421.6 361.3L414.9 364.8Z" fill="#000"/>
<line x1="407.8" y1="386.6" x2="416" y2="386.6" stroke="#000" stroke-width="1.2" />
<path d="M414.9 383.1L421.6 386.6L414.9 390.1Z" fill="#000"/>
<clipPath id="c8"><rect x="420.8" y="417.7" width="89.39999999999998" height="26.400000000000034"/></clipPath>
<g clip-path="url(#c8)">
<rect x="420.8" y="417.7" width="89.39999999999998" height="26.400000000000034" fill="#969696" />
<rect x="421" y="418.0" width="89" height="6" rx="2.5" fill="#b4b4b4" opacity="0.8" filter="url(#b3)"/>
<rect x="421" y="436.0" width="89" height="7" rx="2.5" fill="#808080" opacity="0.7" filter="url(#b3)"/>
<path d="M422.5 428.4 L437 428.5 Q440 429.2 443 429.3 L456 429.3 Q459 429.2 461 429.1 L475 429.3 Q478 429.8 480 430 L492 430.2 Q495 431.3 498 431.5 L508.5 431.8" stroke="#000" stroke-width="3.8" fill="none" filter="url(#b0)"/>
<rect x="460.5" y="426.2" width="15.0" height="6" rx="2.5" fill="#000" opacity="1" filter="url(#b0)"/>
<rect x="478.5" y="427.4" width="13.5" height="5.2" rx="2.5" fill="#000" opacity="1" filter="url(#b0)"/>
<rect x="423" y="425.9" width="14.5" height="5" rx="2.5" fill="#000" opacity="1" filter="url(#b0)"/>
<rect x="441.5" y="426.90000000000003" width="15.0" height="4.8" rx="2.4" fill="#000" opacity="1" filter="url(#b0)"/>
<rect x="496" y="429.2" width="12.5" height="5" rx="2.5" fill="#000" opacity="1" filter="url(#b0)"/>
<rect x="422.5" y="426.5" width="86.0" height="7" rx="2.5" fill="#111" opacity="0.35" filter="url(#b2)"/>
<rect x="420.8" y="417.7" width="89.39999999999998" height="26.400000000000034" filter="url(#nz)" opacity="0.18"/>
</g>
<rect x="421.6" y="418.5" width="87.8" height="24.8" fill="none" stroke="#000" stroke-width="1.8"/>
<text font-size="10.4" stroke="#000" stroke-width="0.12" textLength="22.7" lengthAdjust="spacingAndGlyphs" x="391.3" y="434.2" >Actin</text>
<line x1="75.5" y1="493.7" x2="75.5" y2="652.3" stroke="#000" stroke-width="1.9" />
<line x1="71" y1="649.1" x2="255.7" y2="649.1" stroke="#000" stroke-width="1.9" />
<line x1="71" y1="649.1" x2="75.5" y2="649.1" stroke="#000" stroke-width="1.5" />
<text font-size="8.3" font-weight="bold" stroke="#000" stroke-width="0.166" text-anchor="end" x="70.5" y="652.1" >0</text>
<line x1="71" y1="610.4200000000001" x2="75.5" y2="610.4200000000001" stroke="#000" stroke-width="1.5" />
<text font-size="8.3" font-weight="bold" stroke="#000" stroke-width="0.166" text-anchor="end" x="70.5" y="613.4200000000001" >100</text>
<line x1="71" y1="571.74" x2="75.5" y2="571.74" stroke="#000" stroke-width="1.5" />
<text font-size="8.3" font-weight="bold" stroke="#000" stroke-width="0.166" text-anchor="end" x="70.5" y="574.74" >200</text>
<line x1="71" y1="533.0600000000001" x2="75.5" y2="533.0600000000001" stroke="#000" stroke-width="1.5" />
<text font-size="8.3" font-weight="bold" stroke="#000" stroke-width="0.166" text-anchor="end" x="70.5" y="536.0600000000001" >300</text>
<line x1="71" y1="494.38" x2="75.5" y2="494.38" stroke="#000" stroke-width="1.5" />
<text font-size="8.3" font-weight="bold" stroke="#000" stroke-width="0.166" text-anchor="end" x="70.5" y="497.38" >400</text>
<text font-size="9.2" font-weight="bold" stroke="#000" stroke-width="0.184" text-anchor="middle" textLength="175.3" lengthAdjust="spacingAndGlyphs" fill="#1a1a1a" transform="translate(49,571.3) rotate(-90)" >mitochondrial membrane potential (MFI)</text>
<polyline points="120.75,526.25 165.5,540.5 210,541.25" fill="none" stroke="#000" stroke-width="1.45"/>
<line x1="120.75" y1="526" x2="120.75" y2="526.5" stroke="#000" stroke-width="1.25" />
<line x1="117.5" y1="526" x2="124.0" y2="526" stroke="#000" stroke-width="1.25" />
<line x1="117.5" y1="526.5" x2="124.0" y2="526.5" stroke="#000" stroke-width="1.25" />
<rect x="118.25" y="523.75" width="5" height="5" fill="#000" />
<line x1="165.5" y1="535.8" x2="165.5" y2="545.5" stroke="#000" stroke-width="1.25" />
<line x1="162.25" y1="535.8" x2="168.75" y2="535.8" stroke="#000" stroke-width="1.25" />
<line x1="162.25" y1="545.5" x2="168.75" y2="545.5" stroke="#000" stroke-width="1.25" />
<rect x="163.0" y="538.0" width="5" height="5" fill="#000" />
<line x1="210" y1="533.75" x2="210" y2="549" stroke="#000" stroke-width="1.25" />
<line x1="206.75" y1="533.75" x2="213.25" y2="533.75" stroke="#000" stroke-width="1.25" />
<line x1="206.75" y1="549" x2="213.25" y2="549" stroke="#000" stroke-width="1.25" />
<rect x="207.5" y="538.75" width="5" height="5" fill="#000" />
<polyline points="120.75,538 165.5,565 210,576.25" fill="none" stroke="#000" stroke-width="1.45"/>
<line x1="120.75" y1="534" x2="120.75" y2="542" stroke="#000" stroke-width="1.25" />
<line x1="117.5" y1="534" x2="124.0" y2="534" stroke="#000" stroke-width="1.25" />
<line x1="117.5" y1="542" x2="124.0" y2="542" stroke="#000" stroke-width="1.25" />
<path d="M118.0 535.525L123.5 535.525L120.75 540.475Z" fill="#000"/>
<line x1="165.5" y1="545.5" x2="165.5" y2="584.6" stroke="#000" stroke-width="1.25" />
<line x1="162.25" y1="545.5" x2="168.75" y2="545.5" stroke="#000" stroke-width="1.25" />
<line x1="162.25" y1="584.6" x2="168.75" y2="584.6" stroke="#000" stroke-width="1.25" />
<path d="M162.75 562.525L168.25 562.525L165.5 567.475Z" fill="#000"/>
<line x1="210" y1="564.6" x2="210" y2="588.5" stroke="#000" stroke-width="1.25" />
<line x1="206.75" y1="564.6" x2="213.25" y2="564.6" stroke="#000" stroke-width="1.25" />
<line x1="206.75" y1="588.5" x2="213.25" y2="588.5" stroke="#000" stroke-width="1.25" />
<path d="M207.25 573.775L212.75 573.775L210 578.725Z" fill="#000"/>
<polyline points="120.75,547.5 165.5,573 210,586.25" fill="none" stroke="#000" stroke-width="1.45"/>
<line x1="120.75" y1="537" x2="120.75" y2="558" stroke="#000" stroke-width="1.25" />
<line x1="117.5" y1="537" x2="124.0" y2="537" stroke="#000" stroke-width="1.25" />
<line x1="117.5" y1="558" x2="124.0" y2="558" stroke="#000" stroke-width="1.25" />
<path d="M118.0 549.975L123.5 549.975L120.75 545.025Z" fill="#000"/>
<line x1="165.5" y1="560.5" x2="165.5" y2="585.6" stroke="#000" stroke-width="1.25" />
<line x1="162.25" y1="560.5" x2="168.75" y2="560.5" stroke="#000" stroke-width="1.25" />
<line x1="162.25" y1="585.6" x2="168.75" y2="585.6" stroke="#000" stroke-width="1.25" />
<path d="M162.75 575.475L168.25 575.475L165.5 570.525Z" fill="#000"/>
<line x1="210" y1="574" x2="210" y2="597.7" stroke="#000" stroke-width="1.25" />
<line x1="206.75" y1="574" x2="213.25" y2="574" stroke="#000" stroke-width="1.25" />
<line x1="206.75" y1="597.7" x2="213.25" y2="597.7" stroke="#000" stroke-width="1.25" />
<path d="M207.25 588.725L212.75 588.725L210 583.775Z" fill="#000"/>
<line x1="92" y1="613.2" x2="109.3" y2="613.2" stroke="#000" stroke-width="1.3" />
<rect x="98.0" y="610.7" width="5" height="5" fill="#000" />
<text font-size="9" stroke="#000" stroke-width="0.12" textLength="20" lengthAdjust="spacingAndGlyphs" x="112.1" y="616.3000000000001" >IgG1</text>
<line x1="92" y1="625.7" x2="109.3" y2="625.7" stroke="#000" stroke-width="1.3" />
<path d="M98.0 627.95L103.0 627.95L100.5 623.45Z" fill="#000"/>
<text font-size="9" stroke="#000" stroke-width="0.12" textLength="37.7" lengthAdjust="spacingAndGlyphs" x="112.1" y="628.8000000000001" >DcR3.Fc</text>
<line x1="92" y1="637.8" x2="109.3" y2="637.8" stroke="#000" stroke-width="1.3" />
<path d="M98.0 635.55L103.0 635.55L100.5 640.05Z" fill="#000"/>
<text font-size="9" stroke="#000" stroke-width="0.12" textLength="34.2" lengthAdjust="spacingAndGlyphs" x="112.1" y="640.9" >HBD.Fc</text>
<text font-size="10.2" font-weight="bold" stroke="#000" stroke-width="0.204" text-anchor="middle" x="121.2" y="664.9" >24</text>
<text font-size="10.2" font-weight="bold" stroke="#000" stroke-width="0.204" text-anchor="middle" x="165" y="664.9" >48</text>
<text font-size="10.2" font-weight="bold" stroke="#000" stroke-width="0.204" text-anchor="middle" x="208.6" y="664.9" >72</text>
<text font-size="10.2" font-weight="bold" stroke="#000" stroke-width="0.204" text-anchor="middle" x="222.7" y="664.9" >h</text>
<line x1="330.5" y1="490" x2="330.5" y2="655.3" stroke="#000" stroke-width="1.9" />
<line x1="326" y1="654.2" x2="520" y2="654.2" stroke="#000" stroke-width="1.9" />
<text font-size="9.6" font-weight="bold" stroke="#000" stroke-width="0.192" text-anchor="end" x="327.2" y="657.6" >0</text>
<line x1="327.5" y1="609.629" x2="330.5" y2="609.629" stroke="#000" stroke-width="1.5" />
<text font-size="9.6" font-weight="bold" stroke="#000" stroke-width="0.192" text-anchor="end" x="327.2" y="613.029" >30</text>
<line x1="327.5" y1="565.058" x2="330.5" y2="565.058" stroke="#000" stroke-width="1.5" />
<text font-size="9.6" font-weight="bold" stroke="#000" stroke-width="0.192" text-anchor="end" x="327.2" y="568.458" >60</text>
<line x1="327.5" y1="520.4870000000001" x2="330.5" y2="520.4870000000001" stroke="#000" stroke-width="1.5" />
<text font-size="9.6" font-weight="bold" stroke="#000" stroke-width="0.192" text-anchor="end" x="327.2" y="523.8870000000001" >90</text>
<text font-size="10.5" font-weight="bold" stroke="#000" stroke-width="0.21" text-anchor="middle" textLength="82" lengthAdjust="spacingAndGlyphs" transform="translate(308.6,571.3) rotate(-90)" >survival rate (%)</text>
<polyline points="368.25,505.75 406.25,520 443.25,545 481.25,580" fill="none" stroke="#111" stroke-width="1.2" stroke-dasharray="3.5,1.4,1.2,1.4"/>
<polyline points="368.25,505.75 406.25,521.25 443.25,571.25 481.25,589.5" fill="none" stroke="#000" stroke-width="1.8"/>
<polyline points="368.25,505.75 406.25,513.5 443.25,512.5 481.25,515.75" fill="none" stroke="#000" stroke-width="1.6" stroke-dasharray="7,3"/>
<polyline points="368.25,505.75 406.25,505.75 443.25,505.75 481.25,505.75" fill="none" stroke="#000" stroke-width="2.0" stroke-dasharray="2.6,1.6"/>
<path d="M365.35 508.36L371.15 508.36L368.25 503.14Z" fill="#fff" stroke="#000" stroke-width="1.25"/>
<line x1="406.25" y1="514" x2="406.25" y2="527" stroke="#000" stroke-width="1.3" />
<line x1="402.75" y1="514" x2="409.75" y2="514" stroke="#000" stroke-width="1.3" />
<line x1="402.75" y1="527" x2="409.75" y2="527" stroke="#000" stroke-width="1.3" />
<path d="M403.35 522.61L409.15 522.61L406.25 517.39Z" fill="#fff" stroke="#000" stroke-width="1.25"/>
<line x1="443.25" y1="536.25" x2="443.25" y2="553" stroke="#000" stroke-width="1.3" />
<line x1="439.75" y1="536.25" x2="446.75" y2="536.25" stroke="#000" stroke-width="1.3" />
<line x1="439.75" y1="553" x2="446.75" y2="553" stroke="#000" stroke-width="1.3" />
<path d="M440.35 547.61L446.15 547.61L443.25 542.39Z" fill="#fff" stroke="#000" stroke-width="1.25"/>
<line x1="481.25" y1="567.5" x2="481.25" y2="590" stroke="#000" stroke-width="1.3" />
<line x1="477.75" y1="567.5" x2="484.75" y2="567.5" stroke="#000" stroke-width="1.3" />
<line x1="477.75" y1="590" x2="484.75" y2="590" stroke="#000" stroke-width="1.3" />
<path d="M478.35 582.61L484.15 582.61L481.25 577.39Z" fill="#fff" stroke="#000" stroke-width="1.25"/>
<circle cx="368.25" cy="505.75" r="2.6" fill="#000" stroke="#000" stroke-width="1.3"/>
<line x1="406.25" y1="515" x2="406.25" y2="528.75" stroke="#000" stroke-width="1.3" />
<line x1="402.75" y1="515" x2="409.75" y2="515" stroke="#000" stroke-width="1.3" />
<line x1="402.75" y1="528.75" x2="409.75" y2="528.75" stroke="#000" stroke-width="1.3" />
<circle cx="406.25" cy="521.25" r="2.6" fill="none" stroke="#000" stroke-width="1.3"/>
<line x1="443.25" y1="558.75" x2="443.25" y2="583.75" stroke="#000" stroke-width="1.3" />
<line x1="439.75" y1="558.75" x2="446.75" y2="558.75" stroke="#000" stroke-width="1.3" />
<line x1="439.75" y1="583.75" x2="446.75" y2="583.75" stroke="#000" stroke-width="1.3" />
<circle cx="443.25" cy="571.25" r="2.6" fill="none" stroke="#000" stroke-width="1.3"/>
<line x1="481.25" y1="582.5" x2="481.25" y2="597.5" stroke="#000" stroke-width="1.3" />
<line x1="477.75" y1="582.5" x2="484.75" y2="582.5" stroke="#000" stroke-width="1.3" />
<line x1="477.75" y1="597.5" x2="484.75" y2="597.5" stroke="#000" stroke-width="1.3" />
<circle cx="481.25" cy="589.5" r="2.6" fill="none" stroke="#000" stroke-width="1.3"/>
<rect x="365.45" y="502.95" width="5.6" height="5.6" fill="#000" />
<line x1="406.25" y1="509.5" x2="406.25" y2="517" stroke="#000" stroke-width="1.3" />
<line x1="402.75" y1="509.5" x2="409.75" y2="509.5" stroke="#000" stroke-width="1.3" />
<line x1="402.75" y1="517" x2="409.75" y2="517" stroke="#000" stroke-width="1.3" />
<rect x="403.45" y="510.7" width="5.6" height="5.6" fill="#000" />
<line x1="443.25" y1="506.25" x2="443.25" y2="521.25" stroke="#000" stroke-width="1.3" />
<line x1="439.75" y1="506.25" x2="446.75" y2="506.25" stroke="#000" stroke-width="1.3" />
<line x1="439.75" y1="521.25" x2="446.75" y2="521.25" stroke="#000" stroke-width="1.3" />
<rect x="440.75" y="510.0" width="5" height="5" fill="#fff" stroke="#000" stroke-width="1.35" />
<rect x="478.75" y="513.25" width="5" height="5" fill="#fff" stroke="#000" stroke-width="1.35" />
<rect x="365.5" y="503.0" width="5.5" height="5.5" fill="#000" />
<rect x="404.15" y="503.65" width="4.2" height="4.2" fill="#000" />
<line x1="443.25" y1="503.7" x2="443.25" y2="507.6" stroke="#000" stroke-width="1.3" />
<line x1="439.75" y1="503.7" x2="446.75" y2="503.7" stroke="#000" stroke-width="1.3" />
<line x1="439.75" y1="507.6" x2="446.75" y2="507.6" stroke="#000" stroke-width="1.3" />
<rect x="441.15" y="503.65" width="4.2" height="4.2" fill="#000" />
<rect x="479.15" y="503.65" width="4.2" height="4.2" fill="#000" />
<line x1="355" y1="603.2" x2="368" y2="603.2" stroke="#000" stroke-width="1.5" stroke-dasharray="1.6,2.2"/>
<rect x="359.3" y="601.0" width="4.4" height="4.4" fill="#000" />
<text font-size="8.9" textLength="16.7" lengthAdjust="spacingAndGlyphs" x="370.8" y="606.3000000000001" >Non</text>
<line x1="354.5" y1="614.2" x2="368" y2="614.2" stroke="#000" stroke-width="1.4" stroke-dasharray="4.5,4.5,4.5,4"/>
<rect x="358.9" y="611.6" width="5.2" height="5.2" fill="#fff" stroke="#000" stroke-width="1.7" />
<text font-size="8.9" textLength="20.2" lengthAdjust="spacingAndGlyphs" x="370.8" y="617.3000000000001" >IgG1</text>
<line x1="354" y1="628.3" x2="368.5" y2="628.3" stroke="#000" stroke-width="1.6" />
<circle cx="361.5" cy="628.3" r="2.7" fill="#fff" stroke="#000" stroke-width="1.3"/>
<text font-size="8.9" textLength="37.7" lengthAdjust="spacingAndGlyphs" x="370.8" y="631.4" >DcR3.Fc</text>
<line x1="354.5" y1="642.2" x2="368" y2="642.2" stroke="#000" stroke-width="1.1" stroke-dasharray="2.4,1.2"/>
<path d="M358.7 644.4200000000001L364.3 644.4200000000001L361.5 639.3800000000001Z" fill="#fff" stroke="#000" stroke-width="1.2"/>
<text font-size="8.9" textLength="33.7" lengthAdjust="spacingAndGlyphs" x="370.8" y="645.3000000000001" >HBD.Fc</text>
<text font-size="10" font-weight="bold" stroke="#000" stroke-width="0.2" text-anchor="middle" x="363.3" y="667.3" >0</text>
<text font-size="10" font-weight="bold" stroke="#000" stroke-width="0.2" text-anchor="middle" x="400.6" y="667.3" >24</text>
<text font-size="10" font-weight="bold" stroke="#000" stroke-width="0.2" text-anchor="middle" x="438.4" y="667.3" >48</text>
<text font-size="10" font-weight="bold" stroke="#000" stroke-width="0.2" text-anchor="middle" x="478.5" y="667.3" >72</text>
<text font-size="10" font-weight="bold" stroke="#000" stroke-width="0.2" text-anchor="middle" x="494.2" y="667.3" >h</text>
</svg>
</body></html>
